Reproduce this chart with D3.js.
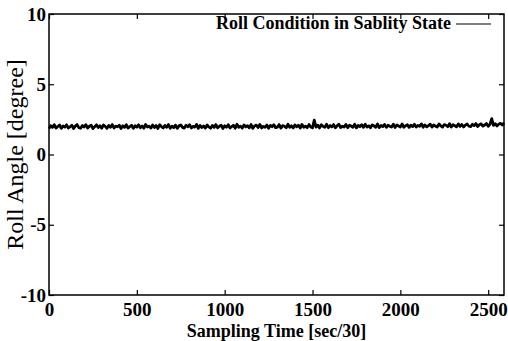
<!DOCTYPE html>
<html>
<head>
<meta charset="utf-8">
<script src="https://cdn.jsdelivr.net/npm/d3@7"></script>
<style>
  body { margin: 0; background: #fff; }
  text { font-family: "Liberation Serif", "DejaVu Serif", serif; fill: #000; }
</style>
</head>
<body>
<svg id="chart" width="508" height="341"></svg>
<script>
const xTicks = [0, 500, 1000, 1500, 2000, 2500];
const yTicks = [-10, -5, 0, 5, 10];
const xDomain = [0, 2590];
const yDomain = [-10, 10];
const step = 10;  // samples between read-off values
const roll = [
  1.84, 2.05, 1.93, 2.12, 1.88, 1.99, 2.10, 1.86, 2.03, 1.95,
  2.11, 1.89, 1.97, 2.08, 1.85, 2.02, 2.13, 1.91, 1.87, 2.06,
  1.96, 2.12, 1.88, 2.01, 2.09, 1.84, 1.98, 2.11, 1.92, 2.04,
  1.87, 2.10, 2.00, 1.86, 2.07, 1.94, 2.13, 1.89, 2.02, 1.97,
  2.09, 1.85, 2.04, 1.93, 2.12, 1.88, 1.99, 2.08, 1.86, 2.05,
  1.95, 2.11, 1.90, 2.03, 1.87, 2.14, 1.96, 2.01, 1.88, 2.10,
  1.92, 2.06, 1.85, 2.12, 1.98, 1.89, 2.07, 1.94, 2.13, 1.87,
  2.02, 1.91, 2.09, 1.86, 2.04, 2.11, 1.93, 1.88, 2.08, 1.97,
  2.12, 1.89, 2.00, 1.95, 2.14, 1.86, 2.06, 1.92, 2.03, 1.88,
  2.10, 1.96, 1.87, 2.07, 1.93, 2.13, 1.90, 2.01, 2.09, 1.85,
  2.04, 1.94, 2.12, 1.89, 1.98, 2.08, 1.87, 2.15, 1.93, 2.02,
  1.88, 2.11, 1.96, 2.05, 1.90, 2.13, 1.86, 2.03, 2.09, 1.92,
  2.14, 1.89, 2.00, 1.94, 2.10, 1.87, 2.07, 1.98, 2.12, 1.91,
  1.95, 2.13, 1.88, 2.06, 2.01, 1.90, 2.15, 1.93, 2.04, 1.89,
  2.11, 1.97, 2.08, 1.88, 2.14, 1.94, 2.02, 1.91, 2.13, 1.96,
  1.90, 2.45, 1.95, 2.09, 1.89, 2.12, 2.00, 1.93, 2.15, 1.91,
  2.06, 1.97, 2.13, 1.90, 2.04, 2.16, 1.92, 2.01, 1.95, 2.14,
  1.91, 2.08, 2.02, 1.94, 2.15, 1.90, 2.07, 1.98, 2.12, 1.93,
  2.16, 1.95, 2.04, 1.91, 2.11, 2.03, 1.94, 2.17, 1.92, 2.06,
  1.99, 2.14, 1.93, 2.08, 2.01, 1.95, 2.16, 1.92, 2.10, 2.03,
  1.96, 2.17, 1.94, 2.05, 2.12, 1.93, 2.09, 1.99, 2.15, 1.95,
  2.07, 2.01, 2.18, 1.94, 2.11, 1.97, 2.06, 2.16, 1.95, 2.10,
  2.02, 1.96, 2.17, 2.04, 1.95, 2.13, 2.08, 1.98, 2.19, 1.96,
  2.12, 2.05, 1.97, 2.18, 2.00, 2.14, 1.96, 2.09, 2.17, 2.01,
  1.98, 2.15, 2.06, 2.20, 1.99, 2.12, 2.18, 2.02, 2.10, 2.21,
  2.00, 2.14, 2.55, 2.07, 2.19, 2.03, 2.16, 2.22, 2.10, 2.24
];
const legendLabel = 'Roll Condition in Sablity State';

const margin = {top: 14, right: 4, bottom: 46, left: 49};
const width = 508, height = 341;

let svg = d3.select('#chart');
let x = d3.scaleLinear().domain(xDomain).range([margin.left, width - margin.right]);
let y = d3.scaleLinear().domain(yDomain).range([height - margin.bottom, margin.top]);

// frame
svg.append('rect')
    .attr('x', x(xDomain[0]))
    .attr('y', y(yDomain[1]))
    .attr('width', x(xDomain[1]) - x(xDomain[0]))
    .attr('height', y(yDomain[0]) - y(yDomain[1]))
    .style('fill', 'none')
    .style('stroke', '#000')
    .style('stroke-width', 1.5);

// inward ticks on all four sides, plain hyphen minus like the original
const tickLen = 5;
const fmt = d => String(d);
function styleAxis(g) {
    g.select('.domain').remove();
    g.selectAll('.tick line').style('stroke', '#000').style('stroke-width', 1.2);
    g.selectAll('.tick text')
        .style('font-family', '"Liberation Serif", serif')
        .style('font-size', '19px')
        .style('font-weight', 'bold');
}
svg.append('g')
    .attr('transform', `translate(0,${y(yDomain[0])})`)
    .call(d3.axisBottom(x).tickValues(xTicks).tickFormat(fmt).tickSizeInner(-tickLen).tickSizeOuter(0).tickPadding(8))
    .call(styleAxis);
svg.append('g')
    .attr('transform', `translate(0,${y(yDomain[1])})`)
    .call(d3.axisTop(x).tickValues(xTicks).tickSizeInner(-tickLen).tickSizeOuter(0).tickFormat(''))
    .call(styleAxis);
svg.append('g')
    .attr('transform', `translate(${x(xDomain[0])},0)`)
    .call(d3.axisLeft(y).tickValues(yTicks).tickFormat(fmt).tickSizeInner(-tickLen).tickSizeOuter(0).tickPadding(3))
    .call(styleAxis);
svg.append('g')
    .attr('transform', `translate(${x(xDomain[1])},0)`)
    .call(d3.axisRight(y).tickValues(yTicks).tickSizeInner(-tickLen).tickSizeOuter(0).tickFormat(''))
    .call(styleAxis);

// data line
let line = d3.line()
    .x((d, i) => x(i * step))
    .y(d => y(d));
svg.append('path')
    .datum(roll)
    .attr('d', line)
    .style('fill', 'none')
    .style('stroke', '#000')
    .style('stroke-width', 2.8)
    .style('stroke-linejoin', 'round');

// legend
svg.append('text')
    .attr('x', 451)
    .attr('y', 29)
    .attr('text-anchor', 'end')
    .style('font-size', '18px')
    .style('font-weight', 'bold')
    .text(legendLabel);
svg.append('line')
    .attr('x1', 456).attr('x2', 491)
    .attr('y1', 24).attr('y2', 24)
    .style('stroke', '#000')
    .style('stroke-width', 1.2);

// axis labels
svg.append('text')
    .attr('x', (x(xDomain[0]) + x(xDomain[1])) / 2)
    .attr('y', 337)
    .attr('text-anchor', 'middle')
    .style('font-size', '18px')
    .style('font-weight', 'bold')
    .text('Sampling Time [sec/30]');
svg.append('text')
    .attr('transform', `translate(23,${(y(yDomain[0]) + y(yDomain[1])) / 2}) rotate(-90)`)
    .attr('text-anchor', 'middle')
    .style('font-size', '24px')
    .text('Roll Angle [degree]');
</script>
</body>
</html>
